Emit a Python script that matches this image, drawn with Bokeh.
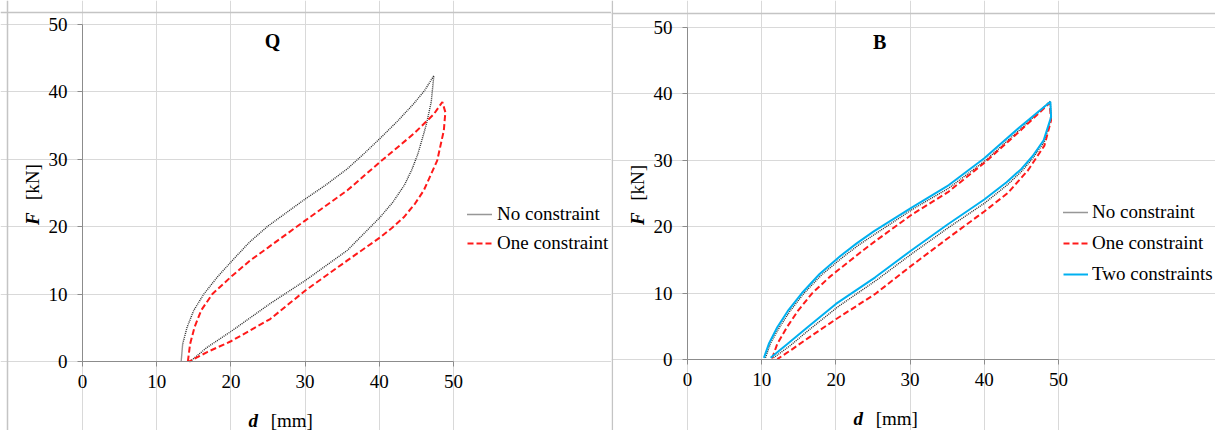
import math
from bokeh.plotting import figure
from bokeh.layouts import row
from bokeh.models import Range1d, FixedTicker, Label, Legend, LegendItem, Span
from bokeh.embed import file_html
from bokeh.resources import INLINE

# ---------------- data ----------------
ticks = [0, 10, 20, 30, 40, 50]

# Panel Q
q_none_d = [13.3, 13.5, 14.1, 15.0, 16.35, 18.15, 20.2, 22.5, 25.0, 30.0, 32.8, 35.7, 38.0,
            40.1, 42.4, 44.6, 46.1, 47.35,
            47.0, 46.3, 45.2, 44.4, 43.4, 41.8, 40.1, 35.7, 30.0, 25.3, 20.0, 16.8, 14.5]
q_none_F = [0.0, 2.6, 5.1, 7.6, 10.0, 12.5, 15.0, 17.7, 20.1, 24.1, 26.2, 28.6, 30.9,
            33.1, 35.6, 38.2, 40.2, 42.4,
            38.5, 35.0, 30.8, 28.5, 26.2, 23.6, 21.4, 16.5, 12.0, 8.6, 4.45, 2.1, 0.0]
q_one_d = [14.2, 14.5, 15.1, 16.0, 17.5, 19.95, 22.6, 25.0, 30.0, 35.7, 40.1, 44.65, 47.35, 48.5,
           48.9, 48.7, 47.8, 46.0, 44.8, 43.3, 41.7, 40.1, 35.7, 30.0, 25.3, 20.0, 16.8, 14.4]
q_one_F = [0.0, 2.6, 5.1, 7.6, 10.0, 12.5, 15.0, 16.9, 20.9, 25.4, 29.6, 33.8, 36.7, 38.5,
           37.0, 34.3, 29.8, 25.4, 23.4, 21.4, 19.8, 18.4, 15.0, 10.5, 6.3, 3.0, 1.4, 0.0]

# Panel B
b_none_d = [10.5, 11.2, 12.4, 13.8, 15.7, 18.1, 20.9, 23.0, 25.4, 30.3, 35.2, 40.2, 45.0, 48.9,
            49.0, 48.1, 46.6, 45.1, 43.1, 40.1, 35.2, 30.3, 25.5, 20.3, 16.6, 13.8, 11.6]
b_none_F = [0.3, 2.5, 4.9, 7.3, 10.0, 12.8, 15.4, 17.2, 19.0, 22.6, 25.8, 30.0, 34.8, 38.9,
            36.3, 32.8, 30.4, 28.4, 26.3, 23.6, 19.9, 16.0, 12.0, 8.0, 4.7, 2.1, 0.3]
b_one_d = [11.4, 12.1, 13.4, 14.9, 16.8, 19.2, 21.9, 23.6, 25.5, 30.2, 35.1, 40.1, 45.0, 48.8,
           49.0, 48.1, 45.9, 43.2, 40.0, 35.0, 30.0, 25.3, 20.0, 16.3, 14.0, 12.1]
b_one_F = [0.2, 2.4, 4.9, 7.4, 10.0, 12.5, 14.9, 16.4, 18.0, 21.8, 25.2, 29.7, 34.6, 38.6,
           36.0, 32.2, 28.5, 25.1, 22.3, 18.2, 14.0, 9.9, 6.1, 3.3, 1.5, 0.1]
b_two_d = [10.3, 11.0, 12.1, 13.5, 15.4, 17.8, 20.6, 22.8, 25.1, 30.1, 35.0, 40.0, 44.8, 48.9,
           49.0, 48.0, 46.5, 45.0, 43.0, 40.0, 35.0, 30.1, 25.3, 20.0, 16.3, 13.5, 11.2]
b_two_F = [0.3, 2.5, 4.9, 7.3, 10.0, 12.9, 15.6, 17.5, 19.3, 22.8, 26.1, 30.3, 35.0, 38.8,
           36.5, 33.0, 30.6, 28.7, 26.7, 24.1, 20.3, 16.4, 12.4, 8.4, 5.0, 2.4, 0.3]

labels = ["No constraint", "One constraint", "Two constraints"]

SERIF = "Liberation Serif"
STYLES = [
    dict(line_color="#2e2e2e", line_dash="1 1", line_width=1.4),
    dict(line_color="#ff1a1a", line_dash="6 3", line_width=2),
    dict(line_color="#00b0f0", line_width=2),
]

HEIGHT = 430
BORDER = "#c4c4c4"


def make_panel(title, title_xy, series, width, x0_px, x50_px, y50_px, y0_px,
               legend_xy, spacing, glyph_w, standoff, borders):
    # frame covers the whole canvas; the 0..50 axes sit at fixed positions inside it
    sx = (x50_px - x0_px) / 50.0
    sy = (y0_px - y50_px) / 50.0
    xr = Range1d(-x0_px / sx, (width - x0_px) / sx)
    yr = Range1d(-(HEIGHT - y0_px) / sy, y0_px / sy)
    p = figure(width=width, height=HEIGHT, x_range=xr, y_range=yr,
               output_backend="svg", toolbar_location=None, min_border=0)
    p.outline_line_color = None
    p.background_fill_color = "white"
    p.border_fill_color = "white"
    for ax in (p.xaxis[0], p.yaxis[0]):
        ax.fixed_location = 0
        ax.bounds = (0, 50)
        ax.ticker = FixedTicker(ticks=ticks)
        ax.axis_line_color = "#8c8c8c"
        ax.major_tick_line_color = "#8c8c8c"
        ax.major_tick_in = 0
        ax.major_tick_out = 5
        ax.minor_tick_line_color = None
        ax.major_label_text_font = SERIF
        ax.major_label_text_font_size = "19px"
        ax.major_label_text_color = "#000000"
    p.xaxis.major_label_standoff = 8
    p.yaxis.major_label_standoff = 10
    for g in (p.xgrid[0], p.ygrid[0]):
        g.ticker = FixedTicker(ticks=ticks)
        g.bounds = (0, 50)
        g.grid_line_color = "#d9d9d9"
        g.grid_line_width = 1

    # light panel borders (frame of the original figure)
    top_px, left_px = borders
    p.add_layout(Span(location=(y0_px - top_px) / sy, dimension="width",
                      line_color=BORDER, line_width=1.5))
    p.add_layout(Span(location=(left_px - x0_px) / sx, dimension="height",
                      line_color=BORDER, line_width=1.5))

    items = []
    for i, (xs, ys) in enumerate(series):
        r = p.line(xs, ys, **STYLES[i])
        items.append(LegendItem(label=labels[i], renderers=[r]))

    leg = Legend(items=items, location=legend_xy, padding=0, margin=0,
                 border_line_color=None, background_fill_alpha=0,
                 label_text_font=SERIF, label_text_font_size="19px",
                 label_text_color="#000000",
                 glyph_width=glyph_w, glyph_height=20, label_height=20,
                 label_standoff=standoff, spacing=spacing)
    p.add_layout(leg)

    p.add_layout(Label(x=title_xy[0], y=title_xy[1], text=title, text_font=SERIF,
                       text_font_style="bold", text_font_size="20px",
                       text_align="center", text_baseline="middle", text_color="#000000"))
    # x-axis title: bold italic "d" + "[mm]"
    p.add_layout(Label(x=23.0, y=-8.8, text="d", text_font=SERIF,
                       text_font_style="bold italic", text_font_size="19px",
                       text_align="center", text_baseline="middle", text_color="#000000"))
    p.add_layout(Label(x=28.2, y=-8.8, text="[mm]", text_font=SERIF,
                       text_font_size="19px",
                       text_align="center", text_baseline="middle", text_color="#000000"))
    # y-axis title: bold italic "F" + "[kN]"
    p.add_layout(Label(x=-6.8, y=21.2, text="F", text_font=SERIF,
                       text_font_style="bold italic", text_font_size="19px",
                       angle=math.pi / 2,
                       text_align="center", text_baseline="middle", text_color="#000000"))
    p.add_layout(Label(x=-6.8, y=26.6, text="[kN]", text_font=SERIF,
                       text_font_size="19px", angle=math.pi / 2,
                       text_align="center", text_baseline="middle", text_color="#000000"))
    return p


# left canvas spans page x 0..611, right canvas page x 611..1215
p1 = make_panel("Q", (25.6, 47.6),
                [(q_none_d, q_none_F), (q_one_d, q_one_F)],
                width=611, x0_px=82, x50_px=453, y50_px=24, y0_px=361,
                legend_xy=(467, HEIGHT - 254), spacing=7, glyph_w=25, standoff=5,
                borders=(12, 7))
p2 = make_panel("B", (25.9, 47.8),
                [(b_none_d, b_none_F), (b_one_d, b_one_F), (b_two_d, b_two_F)],
                width=604, x0_px=76, x50_px=447, y50_px=26.7, y0_px=359.3,
                legend_xy=(452, HEIGHT - 285), spacing=9, glyph_w=25, standoff=4,
                borders=(13, 0.8))

layout = row(p1, p2)
open("out.html", "w").write(file_html(layout, INLINE))
